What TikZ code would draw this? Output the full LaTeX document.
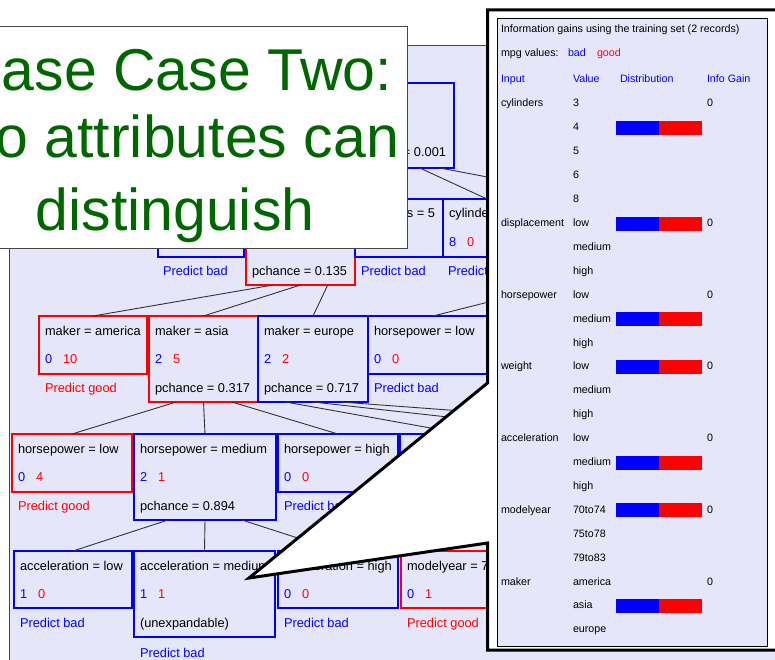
\documentclass[tikz,border=0pt]{standalone}
\usepackage{fontspec}
\setmainfont{Liberation Sans}
\usetikzlibrary{calc}

\definecolor{lav}{RGB}{230,230,250}
\definecolor{tblue}{RGB}{0,0,255}
\definecolor{tred}{RGB}{255,0,0}
\definecolor{titlegreen}{RGB}{0,102,0}
\definecolor{framegray}{RGB}{70,70,70}

\tikzset{
  tbox/.style={rectangle, line width=1.3pt, inner sep=0pt, outer sep=0pt},
  ttxt/.style={inner sep=0pt, outer sep=0pt, font=\fontsize{12.8}{15}\selectfont},
  ptxt/.style={inner sep=0pt, outer sep=0pt, anchor=base west, font=\fontsize{10.7}{12}\selectfont},
  conn/.style={draw=black!80, line width=0.9pt},
  headline/.style={inner sep=0pt, outer sep=0pt, text=titlegreen, font=\fontsize{59}{70}\selectfont},
}

% a tree box: name, x, y, width, height, colour
\newcommand\treebox[6]{\node[tbox,draw=#6,minimum width=#4pt,minimum height=#5pt,anchor=north west] (#1) at (#2,#3) {};}
% a line of text inside/under a tree box: name, box, dx, dy, colour, text
\newcommand\treetext[6]{\node[ttxt,text=#5,anchor=base west] (#1) at ([shift={(#3,#4)}]#2.north west) {#6};}
% a box with its title and its two counts
\newcommand\treenode[9]{%
  \treebox{#1}{#2}{#3}{#4}{#5}{#6}%
  \treetext{#1-t}{#1}{6}{19}{black}{#7}%
  \treetext{#1-b}{#1}{6}{47}{tblue}{#8}%
  \treetext{#1-r}{#1}{24}{47}{tred}{#9}}

\begin{document}
\begin{tikzpicture}[x=1pt,y=-1pt]
\useasboundingbox (0,0) rectangle (775,660);
\clip (0,0) rectangle (775,660);
\fill[white] (0,0) rectangle (775,660);

% ---------------- decision tree window ----------------
\draw[fill=lav, draw=framegray, line width=0.8pt] (9,45) rectangle (820,700);
\begin{scope}
\clip (9.5,45.5) rectangle (820,700);

% root
\treebox{root}{340}{83}{114}{85}{tblue}
\node[ttxt,anchor=base east] (root-p) at ([shift={(-8,74)}]root.north east) {= 0.001};

% first level
\treebox{cyl3}{158}{199}{86}{58}{tblue}
\treetext{cyl3-p}{cyl3}{5}{76}{tblue}{Predict bad}
\treebox{cyl4}{246}{199}{109}{86}{tred}
\treetext{cyl4-p}{cyl4}{6}{76}{black}{pchance = 0.135}
\treebox{cyl5}{355}{199}{88}{58}{tblue}
\node[ttxt,anchor=base east] (cyl5-t) at ([shift={(-8,18.5)}]cyl5.north east) {s = 5};
\treetext{cyl5-p}{cyl5}{6}{76}{tblue}{Predict bad}
\treenode{cyl6}{443}{199}{88}{58}{tblue}{cylinde}{8}{0}
\treetext{cyl6-p}{cyl6}{5}{76}{tblue}{Predict}
\coordinate (cyl8) at (603,199);
\coordinate (cyl8b) at (556,285);

% second level
\treenode{america}{39}{316}{108}{58}{tred}{maker = america}{0}{10}
\treetext{america-p}{america}{6}{76}{tred}{Predict good}
\treenode{asia}{149}{316}{109}{86}{tred}{maker = asia}{2}{5}
\treetext{asia-p}{asia}{6}{76}{black}{pchance = 0.317}
\treenode{europe}{258}{316}{110}{86}{tblue}{maker = europe}{2}{2}
\treetext{europe-p}{europe}{6}{76}{black}{pchance = 0.717}
\treenode{hplowa}{368}{316}{130}{58}{tblue}{horsepower = low}{0}{0}
\treetext{hplowa-p}{hplowa}{6}{76}{tblue}{Predict bad}

% third level
\treenode{hplowb}{12}{434}{120}{58}{tred}{horsepower = low}{0}{4}
\treetext{hplowb-p}{hplowb}{6}{76}{tred}{Predict good}
\treenode{hpmed}{134}{434}{142}{86}{tblue}{horsepower = medium}{2}{1}
\treetext{hpmed-p}{hpmed}{6}{76}{black}{pchance = 0.894}
\treenode{hphigh}{278}{434}{120}{58}{tblue}{horsepower = high}{0}{0}
\treetext{hphigh-p}{hphigh}{6}{76}{tblue}{Predict bad}
\treebox{eua}{400}{434}{128}{58}{tblue}
\coordinate (eub) at (600,434);
\coordinate (euc) at (773,434);

% fourth level
\treenode{acclow}{14}{551}{118}{57}{tblue}{acceleration = low}{1}{0}
\treetext{acclow-p}{acclow}{6}{76}{tblue}{Predict bad}
\treenode{accmed}{134}{551}{141}{86}{tblue}{acceleration = medium}{1}{1}
\treetext{accmed-u}{accmed}{6}{76}{black}{(unexpandable)}
\treetext{accmed-p}{accmed}{6}{106}{tblue}{Predict bad}
\treenode{acchigh}{278}{551}{120}{57}{tblue}{acceleration = high}{0}{0}
\treetext{acchigh-p}{acchigh}{6}{76}{tblue}{Predict bad}
\treenode{myear}{401}{551}{120}{57}{tred}{modelyear = 7}{0}{1}
\treetext{myear-p}{myear}{6}{76}{tred}{Predict good}

% branches
\draw[conn] ($(root.south west)!0.70!(root.south east)$) -- (cyl6.north);
\draw[conn] ($(root.south west)!0.877!(root.south east)$) -- (cyl8);
\draw[conn] ($(cyl4.south west)!0.25!(cyl4.south east)$) -- (america.north);
\draw[conn] ($(cyl4.south west)!0.50!(cyl4.south east)$) -- (asia.north);
\draw[conn] ($(cyl4.south west)!0.75!(cyl4.south east)$) -- (europe.north);
\draw[conn] (cyl8b) -- (hplowa.north);
\draw[conn] ($(asia.south west)!0.25!(asia.south east)$) -- (hplowb.north);
\draw[conn] ($(asia.south west)!0.50!(asia.south east)$) -- (hpmed.north);
\draw[conn] ($(asia.south west)!0.76!(asia.south east)$) -- (hphigh.north);
\draw[conn] ($(europe.south west)!0.25!(europe.south east)$) -- (eua.north);
\draw[conn] ($(europe.south west)!0.50!(europe.south east)$) -- (eub);
\draw[conn] ($(europe.south west)!0.75!(europe.south east)$) -- (euc);
\draw[conn] ($(hpmed.south west)!0.24!(hpmed.south east)$) -- (acclow.north);
\draw[conn] ($(hpmed.south west)!0.50!(hpmed.south east)$) -- (accmed.north);
\draw[conn] ($(hpmed.south west)!0.76!(hpmed.south east)$) -- (acchigh.north);
\end{scope}

% ---------------- headline box ----------------
\draw[fill=white, draw=framegray, line width=0.8pt] (-5,26) rectangle (407,248);
\node[headline, anchor=base east] (head1) at (392,90.5) {ase Case Two:};
\node[headline, anchor=base east] (head2) at (399,158) {o attributes can};
\node[headline, anchor=base] (head3) at (175,230) {distinguish};

% ---------------- callout with the information-gain table ----------------
\draw[fill=white, line width=3pt, line join=miter]
  (487.5,10) -- (820,10) -- (820,650) -- (487.5,650) -- (487.5,543)
  -- (249,578) -- (487.5,383) -- cycle;
\draw[fill=lav, line width=0.8pt] (497,18.5) rectangle (767,646);

\node[ptxt] (info) at (501,33) {Information gains using the training set (2 records)};
\node[ptxt] (mpg) at (501,57) {mpg values:};
\node[ptxt,text=tblue] (mpg-bad) at (568,57) {bad};
\node[ptxt,text=tred] (mpg-good) at (597,57) {good};
\node[ptxt,text=tblue] (h-input) at (501,83) {Input};
\node[ptxt,text=tblue] (h-value) at (573,83) {Value};
\node[ptxt,text=tblue] (h-dist) at (620,83) {Distribution};
\node[ptxt,text=tblue] (h-gain) at (707,83) {Info Gain};

\foreach \v [count=\i from 0] in {3,4,5,6,8,low,medium,high,low,medium,high,low,medium,high,low,medium,high,70to74,75to78,79to83,america,asia,europe}
  \node[ptxt] (val-\i) at (573,{107+23.9*\i}) {\v};

\foreach \n/\k in {cylinders/0,displacement/5,horsepower/8,weight/11,acceleration/14,modelyear/17,maker/20} {
  \node[ptxt] (in-\k) at (501,{107+23.9*\k}) {\n};
  \node[ptxt] (gain-\k) at (707,{107+23.9*\k}) {0};
}

\foreach \k in {1,5,9,11,15,17,21} {
  \fill[tblue] (616,{107+23.9*\k-10}) rectangle (659,{107+23.9*\k+4});
  \fill[tred] (659,{107+23.9*\k-10}) rectangle (702,{107+23.9*\k+4});
}
\end{tikzpicture}
\end{document}
